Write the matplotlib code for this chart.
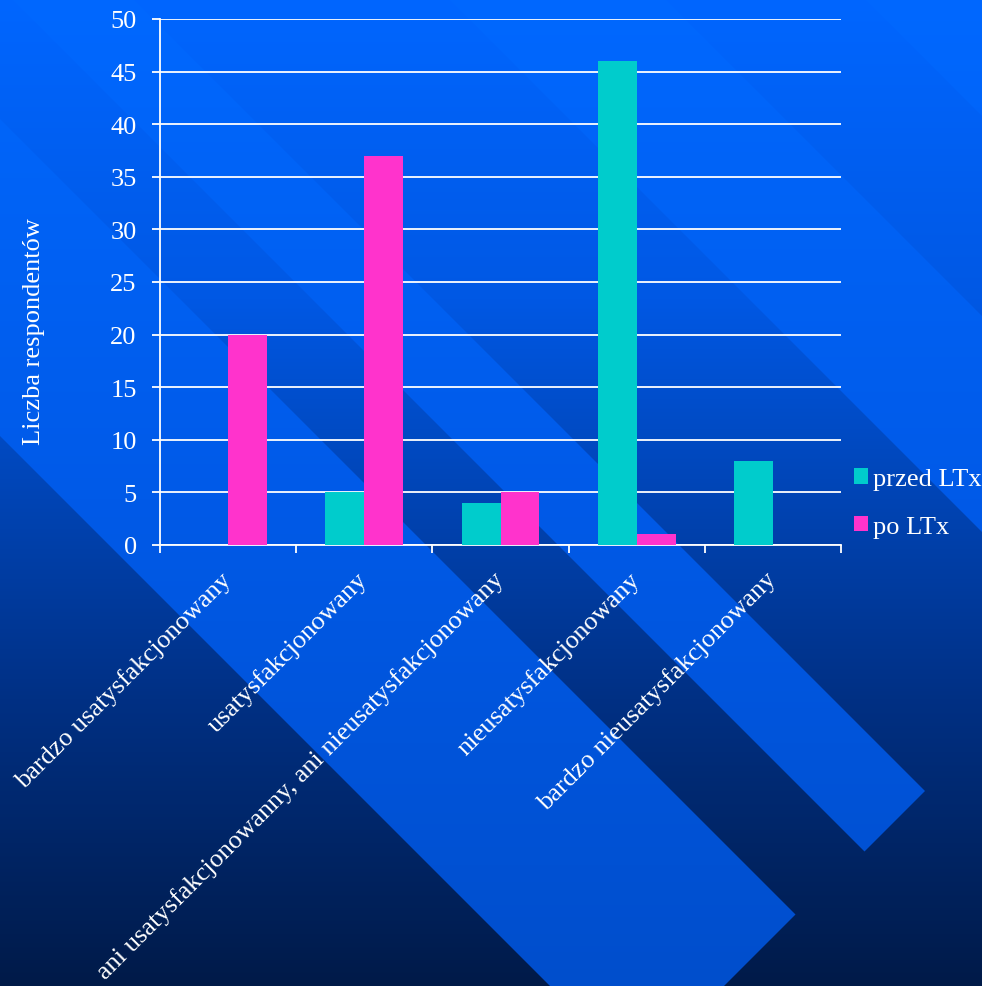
import numpy as np
import matplotlib
matplotlib.use('Agg')
import matplotlib.pyplot as plt
from matplotlib.patches import Polygon, Patch

# dane wykresu
kategorie = ['bardzo usatysfakcjonowany', 'usatysfakcjonowany',
             'ani usatysfakcjonowanny, ani nieusatysfakcjonowany',
             'nieusatysfakcjonowany', 'bardzo nieusatysfakcjonowany']
przed_ltx = [0, 5, 4, 46, 8]
po_ltx = [20, 37, 5, 1, 0]
y_ticks = [0, 5, 10, 15, 20, 25, 30, 35, 40, 45, 50]

plt.rcParams['font.family'] = ['Liberation Serif', 'DejaVu Serif']

W, H = 982, 987
fig = plt.figure(figsize=(W / 100, H / 100), dpi=100)

# tlo - gradient i ukosne pasy
bg = fig.add_axes([0, 0, 1, 1], zorder=0)
bg.set_xlim(0, W)
bg.set_ylim(H, 0)
bg.axis('off')

yy = np.arange(H)
def gradient(stops_y, stops_rgb):
    cols = [np.interp(yy, stops_y, [c[i] for c in stops_rgb]) for i in range(3)]
    return np.stack(cols, axis=-1)[:, None, :] / 255.0

bg_img = gradient([0, 300, 500, 700, 987],
                  [(0, 102, 255), (0, 88, 228), (0, 68, 180), (0, 48, 132), (0, 26, 72)])
bg.imshow(bg_img, extent=[0, W, H, 0], aspect='auto', zorder=0)

band_img = gradient([0, 500, 987], [(0, 104, 255), (0, 90, 232), (0, 78, 204)])
pasy = [
    [(-637, -200), (-320, -200), (795.5, 915.5), (637, 1074)],
    [(2, -10), (123, -10), (925, 792), (864.5, 852.5)],
    [(439, -10), (655, -10), (1100, 435), (1100, 651)],
    [(855, -10), (1200, -10), (1200, 335), (1100, 235)],
]
for p in pasy:
    poly = Polygon(p, closed=True, facecolor='none', edgecolor='none')
    bg.add_patch(poly)
    im = bg.imshow(band_img, extent=[0, W, H, 0], aspect='auto', zorder=1)
    im.set_clip_path(poly)
bg.set_xlim(0, W)
bg.set_ylim(H, 0)

# wykres slupkowy
ax = fig.add_axes([160 / W, 1 - 546 / H, 681 / W, 526 / H], zorder=1)
ax.set_facecolor('none')
x = np.arange(len(kategorie))
w = 0.286
ax.bar(x - w / 2, przed_ltx, w, color='#00CCCC', label='przed LTx', zorder=3)
ax.bar(x + w / 2, po_ltx, w, color='#FF33CC', label='po LTx', zorder=3)

ax.set_xlim(-0.5, len(kategorie) - 0.5)
ax.set_ylim(0, 50)
ax.set_yticks(y_ticks)
ax.yaxis.grid(True, color='white', linewidth=1.3, zorder=1)
ax.set_axisbelow(True)
for s in ['top', 'right']:
    ax.spines[s].set_visible(False)
for s in ['left', 'bottom']:
    ax.spines[s].set_color('white')
    ax.spines[s].set_linewidth(1.3)

ax.tick_params(axis='y', colors='white', labelsize=19, length=5.8, width=1.3, pad=11)
ax.set_xticks(x)
ax.set_xticklabels(kategorie, rotation=45, ha='right', va='center',
                   rotation_mode='anchor', fontsize=19, color='white')
ax.tick_params(axis='x', which='major', length=0, pad=22)
ax.set_xticks(np.arange(len(kategorie) + 1) - 0.5, minor=True)
ax.tick_params(axis='x', which='minor', colors='white', length=5.8, width=1.3)

fig.text(34 / W, 1 - 332 / H, 'Liczba respondentów', rotation=90, color='white',
         fontsize=19, ha='center', va='center')

uchwyty = [Patch(facecolor='#00CCCC'), Patch(facecolor='#FF33CC')]
leg = fig.legend(uchwyty, ['przed LTx', 'po LTx'], loc='center left',
                 bbox_to_anchor=(843 / W, 1 - 504 / H), frameon=False, fontsize=19,
                 handlelength=0.55, handleheight=0.55, handletextpad=0.2,
                 labelspacing=0.95, borderaxespad=0)
for t in leg.get_texts():
    t.set_color('white')

fig.savefig('out.png', dpi=100)
